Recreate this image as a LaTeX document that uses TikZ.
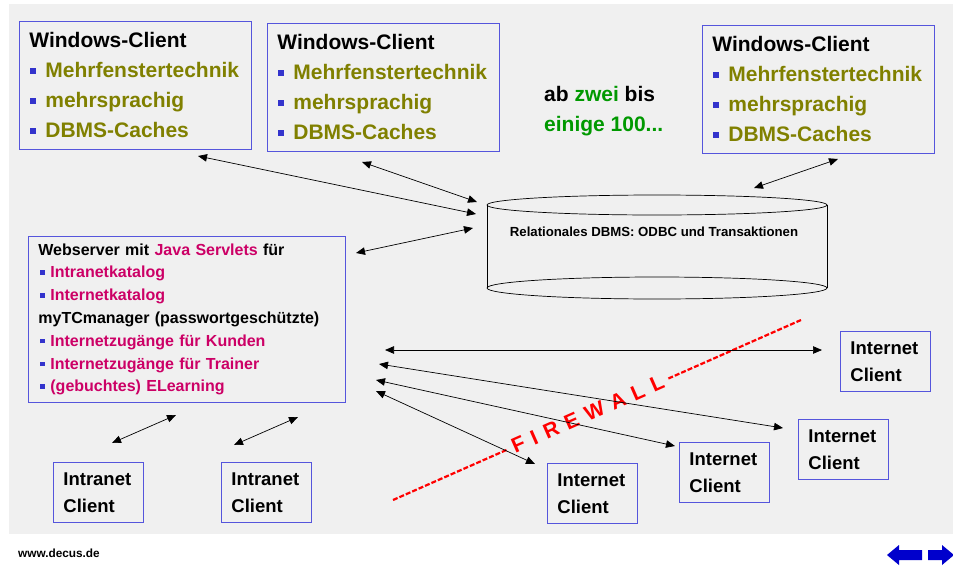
\documentclass[tikz,border=0pt]{standalone}
\usepackage{fontspec}
\setmainfont{Liberation Sans}
\usepackage{tikz}
\usetikzlibrary{arrows.meta}
\definecolor{panel}{RGB}{240,240,240}
\definecolor{boxblue}{RGB}{85,85,220}
\definecolor{bulblue}{RGB}{51,51,204}
\definecolor{olivetext}{RGB}{128,128,0}
\definecolor{servlet}{RGB}{204,0,102}
\definecolor{zwei}{RGB}{0,153,0}
\definecolor{navblue}{RGB}{0,0,204}
\tikzstyle{wclient}=[rectangle,draw=boxblue,line width=0.8pt,anchor=north west,align=left,text width=212pt,inner xsep=10pt,minimum height=128pt,font=\bfseries\fontsize{21}{30}\selectfont]
\tikzstyle{webserver}=[rectangle,draw=boxblue,line width=0.8pt,anchor=north west,align=left,text width=297pt,inner xsep=10pt,minimum height=166pt,font=\bfseries\fontsize{16}{22.8}\selectfont]
\tikzstyle{client}=[rectangle,draw=boxblue,line width=0.8pt,anchor=north west,align=left,text width=70pt,inner xsep=10pt,minimum height=60pt,font=\bfseries\fontsize{18.5}{27}\selectfont]
\tikzstyle{link} = [draw,<->,>={Triangle[length=9pt,width=7.5pt]},line width=0.7pt]
\tikzstyle{firewall} = [draw=red,line width=2.2pt,dash pattern=on 5pt off 2pt]
\newcommand{\bul}{\makebox[16pt][l]{\hspace{1pt}\textcolor{bulblue}{\rule[4pt]{6pt}{6pt}}}}
\newcommand{\sbul}{\makebox[12pt][l]{\hspace{2pt}\textcolor{bulblue}{\rule[3pt]{4.5pt}{4.5pt}}}}
\newcommand{\wctext}{Windows-Client\\\bul\textcolor{olivetext}{Mehrfenstertechnik}\\\bul\textcolor{olivetext}{mehrsprachig}\\\bul\textcolor{olivetext}{DBMS-Caches}}
\newcommand{\fwsp}{\hspace{8pt}}

\begin{document}
\begin{tikzpicture}[x=1pt,y=-1pt]
    \useasboundingbox (0,0) rectangle (953,571);
    \fill[panel] (9,4) rectangle (953,534);
    % First we draw the client boxes
    \foreach \pos/\name in {{(19,21)/wc1}, {(267,23)/wc2}, {(702,25)/wc3}}
        \node[wclient] (\name) at \pos {\wctext};
    \node[webserver] (web) at (28,236) {Webserver mit \textcolor{servlet}{Java Servlets} für\\
        \sbul\textcolor{servlet}{Intranetkatalog}\\
        \sbul\textcolor{servlet}{Internetkatalog}\\
        myTCmanager (passwortgeschützte)\\
        \sbul\textcolor{servlet}{Internetzugänge für Kunden}\\
        \sbul\textcolor{servlet}{Internetzugänge für Trainer}\\
        \sbul\textcolor{servlet}{(gebuchtes) ELearning}};
    \foreach \pos/\name in {{(53,462)/intra1}, {(221,462)/intra2}}
        \node[client] (\name) at \pos {Intranet\\Client};
    \foreach \pos/\name in {{(840,331)/inet1}, {(798,419)/inet2}, {(679,442)/inet3}, {(547,463)/inet4}}
        \node[client] (\name) at \pos {Internet\\Client};
    \node[anchor=north west,inner sep=0pt,align=left,font=\bfseries\fontsize{21}{30}\selectfont] (count) at (544,86.5) {ab \textcolor{zwei}{zwei} bis\\\textcolor{zwei}{einige 100...}};
    % the database
    \draw[line width=0.7pt] (487,205) -- (487,288);
    \draw[line width=0.7pt] (827,205) -- (827,288);
    \draw[line width=0.7pt] (657,205) ellipse [x radius=170pt, y radius=10pt];
    \draw[line width=0.7pt] (657,288) ellipse [x radius=170pt, y radius=11pt];
    \node[inner sep=0pt,font=\bfseries\fontsize{13.2}{15}\selectfont] (dbms) at (654,232) {Relationales DBMS: ODBC und Transaktionen};
    % firewall
    \coordinate (fwA) at (393,500);
    \coordinate (fwB) at (801,320);
    \path[firewall] (fwA) -- node[sloped,pos=0.477,fill=panel,text=red,inner xsep=5pt,inner ysep=1pt,font=\bfseries\fontsize{21}{21}\selectfont] (fwtext) {F\fwsp I\fwsp R\fwsp E\fwsp W\fwsp A\fwsp L\fwsp L} (fwB);
    % Arrow ends next to the boxes
    \foreach \pos/\name in {{(198,156)/wc1a}, {(476,214)/dbA}, {(362,162)/wc2a}, {(477,202)/dbB},
        {(356,253)/webA}, {(473,228)/dbC}, {(838,159)/wc3a}, {(754,188)/dbD},
        {(112,443)/intra1a}, {(176,415)/webB}, {(234,445)/intra2a}, {(298,417)/webC},
        {(385,350)/webD}, {(822,350)/inet1a}, {(379,364)/webE}, {(783,428)/inet2a},
        {(376,380)/webF}, {(675,446)/inet3a}, {(376,391)/webG}, {(535,464)/inet4a}}
        \node[coordinate] (\name) at \pos {};
    % Connect the boxes with arrows
    \foreach \src/\dest in {wc1a/dbA, wc2a/dbB, webA/dbC, wc3a/dbD, intra1a/webB, intra2a/webC, webD/inet1a, webE/inet2a, webF/inet3a, webG/inet4a}
        \path[link] (\src) -- (\dest);
    % footer
    \node[anchor=base west,inner sep=0pt,font=\bfseries\fontsize{11.8}{14}\selectfont] (url) at (18,557) {www.decus.de};
    \fill[navblue] (887,555) -- (899,545) -- (899,550) -- (922,550) -- (922,560) -- (899,560) -- (899,565) -- cycle;
    \fill[navblue] (928,550) -- (942,550) -- (942,545) -- (954,555) -- (942,565) -- (942,560) -- (928,560) -- cycle;
\end{tikzpicture}
\end{document}
